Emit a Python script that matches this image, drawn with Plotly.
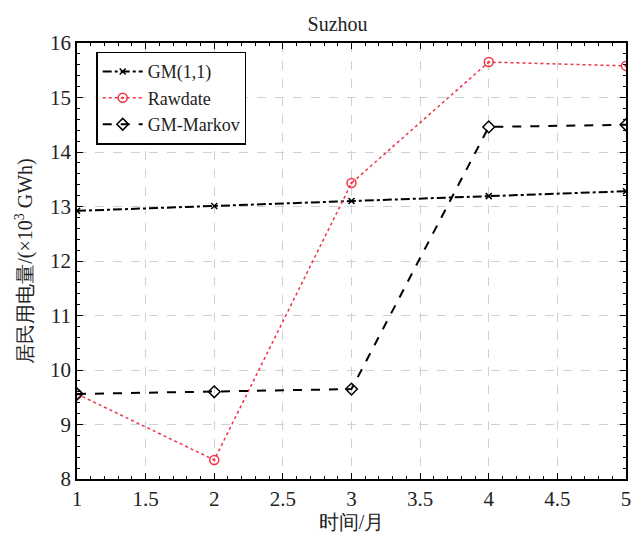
import plotly.graph_objects as go

months = [1, 2, 3, 4, 5]
gm11 = [12.92, 13.01, 13.10, 13.19, 13.28]
rawdate = [9.56, 8.35, 13.43, 15.65, 15.58]
gm_markov = [9.56, 9.60, 9.65, 14.46, 14.50]

serif = "Liberation Serif"

fig = go.Figure()
fig.add_trace(go.Scatter(x=months, y=gm11, name="GM(1,1)", mode="lines+markers",
                         line=dict(color="black", dash="dashdot", width=2),
                         marker=dict(symbol="x-thin-open", size=6, color="black", line=dict(width=1.5, color="black"))))
fig.add_trace(go.Scatter(x=months, y=rawdate, name="Rawdate", mode="lines+markers",
                         line=dict(color="#ee3344", dash="dot", width=1.5),
                         marker=dict(symbol="circle-open-dot", size=9, color="#ee3344", line=dict(width=1.5, color="#ee3344"))))
fig.add_trace(go.Scatter(x=months, y=gm_markov, name="GM-Markov", mode="lines+markers",
                         line=dict(color="black", dash="dash", width=2),
                         marker=dict(symbol="diamond-open", size=9, color="black", line=dict(width=1.5, color="black"))))

axis_common = dict(showline=True, linecolor="black", linewidth=1.5, mirror="ticks",
                   ticks="inside", ticklen=6, tickcolor="black",
                   showgrid=True, gridcolor="#cdd1d5", griddash="dash", gridwidth=1,
                   zeroline=False, tickfont=dict(family=serif, size=21, color="#222"))

fig.update_xaxes(range=[1, 5], dtick=0.5, tick0=1,
                 title=dict(text="时间/月", font=dict(family=serif, size=20, color="#222"), standoff=2),
                 minor=dict(dtick=0.1, ticks="inside", ticklen=3, tickcolor="black", showgrid=False),
                 **axis_common)
fig.update_yaxes(range=[8, 16], dtick=1,
                 title=dict(text="居民用电量/(×10<sup>3</sup> GWh)", font=dict(family=serif, size=20, color="#222"), standoff=12),
                 minor=dict(dtick=0.2, ticks="inside", ticklen=3, tickcolor="black", showgrid=False),
                 **axis_common)

fig.update_layout(
    width=637, height=537,
    margin=dict(l=77, r=6, t=43, b=58),
    paper_bgcolor="white", plot_bgcolor="white",
    title=dict(text="Suzhou", x=0.53, xanchor="center", y=0.955, yanchor="middle",
               font=dict(family=serif, size=20, color="#222")),
    legend=dict(x=0.035, y=0.98, xanchor="left", yanchor="top",
                bgcolor="white", bordercolor="black", borderwidth=1.5,
                font=dict(family=serif, size=18, color="#222"),
                tracegroupgap=0, itemwidth=40),
    showlegend=True,
)

fig.write_html("out.html", config={"displayModeBar": False},
               post_script="document.body.style.margin='0px';")
